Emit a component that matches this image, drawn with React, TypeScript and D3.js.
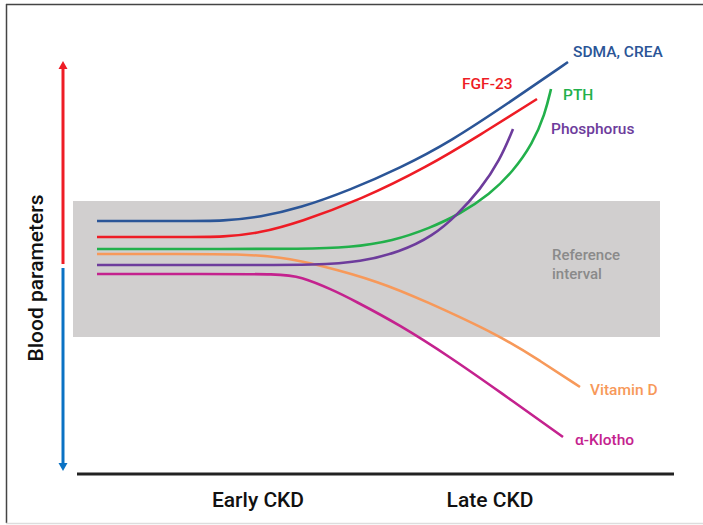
import React from "react";
import * as d3 from "d3";

// ---- data (x: disease progression 0-100, y: relative blood level 0-100) ----
const stages = ["Early CKD", "Late CKD"];
const yAxisTitle = "Blood parameters";
const referenceInterval = [34.25, 68.25];
const referenceLabel = ["Reference", "interval"];

const sdmaCrea: [number, number][] = [
  [3.4, 63.25], [20, 63.25], [29, 63.25], [36, 64.25], [44, 66.5], [54, 71], [64, 76.5], [74, 83], [86.6, 93.5], [97.6, 103],
];
const fgf23: [number, number][] = [
  [3.4, 59.25], [20, 59.25], [29, 59.25], [36, 60.25], [44, 63], [56, 68.5], [69.4, 76.75], [80, 84.75], [91.4, 93.75],
];
const pth: [number, number][] = [
  [3.4, 56.25], [30, 56.25], [44, 56.25], [54, 56.6], [62.6, 58.25], [70, 61.5], [76, 65], [82, 70], [86.5, 75.5], [90.5, 82.5], [93, 90], [94.2, 96.25],
];
const vitaminD: [number, number][] = [
  [3.4, 55], [20, 55], [32, 55], [40, 54.25], [48, 52.25], [60, 48], [68.6, 43.5], [84, 34.6], [92, 28.3], [100, 21.75],
];
const phosphorus: [number, number][] = [
  [3.4, 52.25], [30, 52.25], [48, 52.25], [56, 53], [64, 55.5], [70.6, 59.5], [75.4, 64.75], [80, 71], [84, 78.5], [86.6, 86.25],
];
const alphaKlotho: [number, number][] = [
  [3.4, 50], [25, 50], [40, 50], [44, 49.4], [50.6, 46], [54.6, 43.5], [64, 37.25], [74, 29.25], [84, 20.5], [96.6, 9.25],
];

const seriesNames = ["SDMA, CREA", "FGF-23", "PTH", "Vitamin D", "Phosphorus", "α-Klotho"];
const seriesValues = [sdmaCrea, fgf23, pth, vitaminD, phosphorus, alphaKlotho];

// ---- styles / layout ----
const colors = ["#2b5597", "#ee1c25", "#22b04b", "#f7995a", "#6d3c9c", "#c4228e"];
// label anchor position in px (layout only)
const labelPos: [number, number][] = [
  [573, 57], [462, 89], [563, 100], [590, 395], [551, 134], [575, 445],
];

const W = 703;
const H = 525;
const FONT = "Roboto, 'Noto Sans', sans-serif";

export default function App() {
  const x = d3.scaleLinear().domain([0, 100]).range([80, 580]);
  const y = d3.scaleLinear().domain([0, 100]).range([474, 74]);
  const line = d3
    .line<[number, number]>()
    .x((d) => x(d[0]))
    .y((d) => y(d[1]))
    .curve(d3.curveBasis);

  const bandTop = y(referenceInterval[1]);
  const bandBottom = y(referenceInterval[0]);

  return (
    <svg
      width={W}
      height={H}
      style={{ position: "absolute", left: 0, top: 0, background: "#fff" }}
      fontFamily={FONT}
    >
      {/* frame */}
      <line x1={6} y1={4.5} x2={703} y2={4.5} stroke="#444" strokeWidth={1.5} />
      <line x1={6.5} y1={4} x2={6.5} y2={523} stroke="#444" strokeWidth={1.5} />
      <line x1={6} y1={523.5} x2={703} y2={523.5} stroke="#ddd" strokeWidth={1.5} />

      {/* reference band */}
      <rect x={73} y={bandTop} width={660 - 73} height={bandBottom - bandTop} fill="#d1cfcf" />
      <text x={552} y={260} fill="#8a8a8a" fontSize={15} fontWeight={500}>
        {referenceLabel[0]}
      </text>
      <text x={552} y={279} fill="#8a8a8a" fontSize={15} fontWeight={500}>
        {referenceLabel[1]}
      </text>

      {/* y arrows */}
      <line x1={63} y1={264} x2={63} y2={68} stroke="#ee1c25" strokeWidth={3} />
      <path d="M58.5,69 L63,61 L67.5,69 Z" fill="#ee1c25" />
      <line x1={63} y1={268} x2={63} y2={464} stroke="#0a72c4" strokeWidth={3} />
      <path d="M58.5,463 L63,471 L67.5,463 Z" fill="#0a72c4" />
      <text
        transform="translate(42.5,278) rotate(-90)"
        textAnchor="middle"
        fontSize={21}
        fontWeight={500}
        fill="#111"
      >
        {yAxisTitle}
      </text>

      {/* x axis */}
      <line x1={77} y1={474} x2={674} y2={474} stroke="#222" strokeWidth={3} />
      {stages.map((s, i) => (
        <text
          key={s}
          x={i === 0 ? 258 : 490}
          y={507}
          textAnchor="middle"
          fontSize={21}
          fontWeight={500}
          fill="#111"
        >
          {s}
        </text>
      ))}

      {/* series */}
      {seriesValues.map((vals, i) => (
        <path
          key={seriesNames[i]}
          d={line(vals) || ""}
          fill="none"
          stroke={colors[i]}
          strokeWidth={2.6}
          strokeLinecap="butt"
        />
      ))}
      {seriesNames.map((n, i) => (
        <text
          key={n}
          x={labelPos[i][0]}
          y={labelPos[i][1]}
          fill={colors[i]}
          fontSize={15.5}
          fontWeight={500}
        >
          {n}
        </text>
      ))}
    </svg>
  );
}
